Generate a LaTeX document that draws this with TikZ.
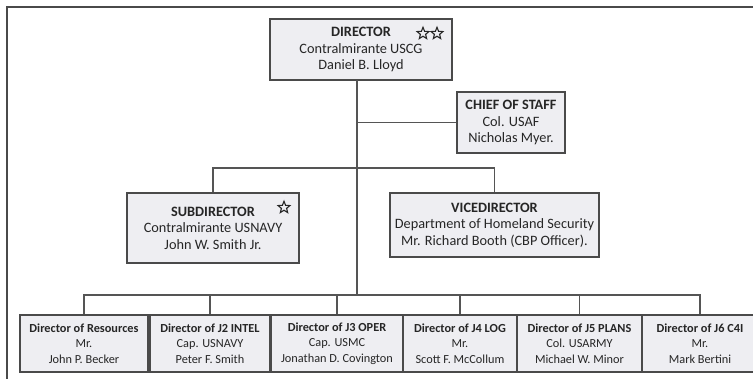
\documentclass[tikz,border=0pt]{standalone}
\usepackage{fontspec}
\usetikzlibrary{shapes.geometric}
\setmainfont{Carlito}
\definecolor{boxfill}{HTML}{EEEEF2}
\definecolor{boxline}{HTML}{4A4A4A}
\definecolor{txt}{HTML}{262626}
\definecolor{lineclr}{HTML}{555555}
\tikzset{
  orgbox/.style={draw=boxline, fill=boxfill, line width=1.6pt, inner sep=0pt,
    align=center, text=txt, font=\fontsize{14.3}{16.5}\selectfont},
  lowbox/.style={orgbox, minimum height=57pt, font=\fontsize{12.3}{15.5}\selectfont},
  conn/.style={draw=lineclr, line width=1.2pt},
  frameline/.style={draw=boxline, line width=1.8pt},
  starmark/.style={star, star points=5, star point ratio=2.3, draw=txt, line width=1.1pt,
    inner sep=0pt, minimum size=12.5pt, line join=miter}
}
\begin{document}
\begin{tikzpicture}[x=1pt, y=-1pt]
\useasboundingbox (0,0) rectangle (753,379);
\clip (0,0) rectangle (753,379);
\fill[white] (0,0) rectangle (753,379);
\draw[frameline] (7,380) -- (7,7) -- (754,7);

% top level
\node[orgbox, minimum width=182pt, minimum height=61pt] (dir) at (361,49.5)
  {\textbf{DIRECTOR}\\Contralmirante USCG\\Daniel B. Lloyd};
\node[starmark] (dirstarA) at (423,33.5) {};
\node[starmark] (dirstarB) at (437,33.5) {};

\node[orgbox, minimum width=108pt, minimum height=61pt] (staff) at (511,122.5)
  {\textbf{CHIEF OF STAFF}\\Col. USAF\\Nicholas Myer.};

\node[orgbox, minimum width=172pt, minimum height=70pt] (sub) at (213,228)
  {\textbf{SUBDIRECTOR}\\Contralmirante USNAVY\\John W. Smith Jr.};
\node[starmark] (substar) at (284,207.5) {};

\node[orgbox, minimum width=209pt, minimum height=64pt] (vice) at (494.5,225)
  {\textbf{VICEDIRECTOR}\\Department of Homeland Security\\Mr. Richard Booth (CBP Officer).};

% bottom level
\node[lowbox, minimum width=128pt] (b1) at (84,343.5)
  {\textbf{Director of Resources}\\Mr.\\John P. Becker};
\node[lowbox, minimum width=120pt] (b2) at (210,343.5)
  {\textbf{Director of J2 INTEL}\\Cap. USNAVY\\Peter F. Smith};
\node[lowbox, minimum width=132pt] (b3) at (337,343.5)
  {\textbf{Director of J3 OPER}\\Cap. USMC\\Jonathan D. Covington};
\node[lowbox, minimum width=114pt] (b4) at (460,343.5)
  {\textbf{Director of J4 LOG}\\Mr.\\Scott F. McCollum};
\node[lowbox, minimum width=125pt] (b5) at (579.5,343.5)
  {\textbf{Director of J5 PLANS}\\Col. USARMY\\Michael W. Minor};
\node[lowbox, minimum width=116pt] (b6) at (700,343.5)
  {\textbf{Director of J6 C4I}\\Mr.\\Mark Bertini};

% buses
\coordinate (busM) at (357,168);
\coordinate (busB) at (357,295);
\coordinate (trunk) at (357,80);

\draw[conn] (trunk) -- (busB);
\draw[conn] (trunk |- staff.west) -- (staff.west);
\draw[conn] (sub.north) |- (busM) -| (vice.north);
\draw[conn] (b1.north) |- (busB) -| (b6.north);
\foreach \b in {b2,b3,b4,b5} \draw[conn] (\b.north) -- (\b.north |- busB);
\end{tikzpicture}
\end{document}
